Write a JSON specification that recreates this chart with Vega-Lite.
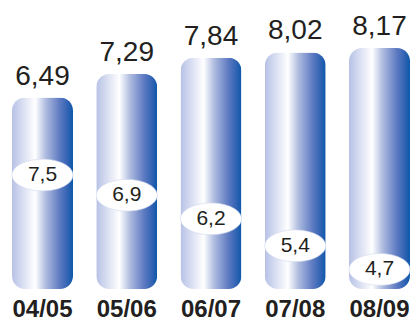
{
  "$schema": "https://vega.github.io/schema/vega-lite/v6.json",
  "width": 414,
  "height": 289,
  "padding": {"top": 0, "left": 0, "right": 0, "bottom": 31},
  "autosize": {"type": "none"},
  "background": "white",
  "config": {
    "view": {"stroke": null},
    "locale": {"number": {"decimal": ",", "thousands": ".", "grouping": [3], "currency": ["", " €"]}},
    "font": "Liberation Sans"
  },
  "data": {
    "values": [
      {"period": "04/05", "value": 6.49, "inner": 7.5},
      {"period": "05/06", "value": 7.29, "inner": 6.9},
      {"period": "06/07", "value": 7.84, "inner": 6.2},
      {"period": "07/08", "value": 8.02, "inner": 5.4},
      {"period": "08/09", "value": 8.17, "inner": 4.7}
    ]
  },
  "encoding": {
    "x": {
      "field": "period",
      "type": "ordinal",
      "sort": null,
      "scale": {"paddingInner": 0.276, "paddingOuter": 0.095, "align": 0.75},
      "axis": {
        "title": null,
        "domain": false,
        "ticks": false,
        "labelAngle": 0,
        "labelFont": "Liberation Sans",
        "labelFontWeight": "bold",
        "labelFontSize": 24,
        "labelColor": "#231f20",
        "labelPadding": 8
      }
    }
  },
  "layer": [
    {
      "mark": {
        "type": "bar",
        "cornerRadius": 13,
        "fill": {
          "gradient": "linear",
          "x1": 0, "x2": 1, "y1": 0, "y2": 0,
          "stops": [
            {"offset": 0, "color": "#b6c1e5"},
            {"offset": 0.2, "color": "#dde2f3"},
            {"offset": 0.38, "color": "#ffffff"},
            {"offset": 0.55, "color": "#b0bde0"},
            {"offset": 0.78, "color": "#5f7bc2"},
            {"offset": 0.92, "color": "#2f62b3"},
            {"offset": 1, "color": "#0b58a8"}
          ]
        }
      },
      "encoding": {
        "y": {"field": "value", "type": "quantitative", "scale": {"domain": [0, 9.8], "nice": false, "zero": true}, "axis": null}
      }
    },
    {
      "mark": {"type": "text", "fontSize": 28, "color": "#231f20", "baseline": "alphabetic", "dy": -13, "align": "center"},
      "encoding": {
        "y": {"field": "value", "type": "quantitative", "scale": {"domain": [0, 9.8], "nice": false}, "axis": null},
        "text": {"field": "value", "type": "quantitative", "format": ".2f"}
      }
    },
    {
      "mark": {
        "type": "point",
        "shape": "M -1 0 A 1 0.52 0 1 0 1 0 A 1 0.52 0 1 0 -1 0 Z",
        "filled": true,
        "fill": "#ffffff",
        "fillOpacity": 1,
        "stroke": "#d0d8ee",
        "strokeWidth": 0.6,
        "size": 3721
      },
      "encoding": {
        "y": {"field": "inner", "type": "quantitative", "scale": {"domain": [4.12, 12.69], "nice": false, "zero": false}, "axis": null}
      }
    },
    {
      "mark": {"type": "text", "fontSize": 21, "color": "#231f20", "baseline": "middle", "align": "center"},
      "encoding": {
        "y": {"field": "inner", "type": "quantitative", "scale": {"domain": [4.12, 12.69], "nice": false, "zero": false}, "axis": null},
        "text": {"field": "inner", "type": "quantitative", "format": ".1f"}
      }
    }
  ],
  "resolve": {"scale": {"y": "independent"}}
}
